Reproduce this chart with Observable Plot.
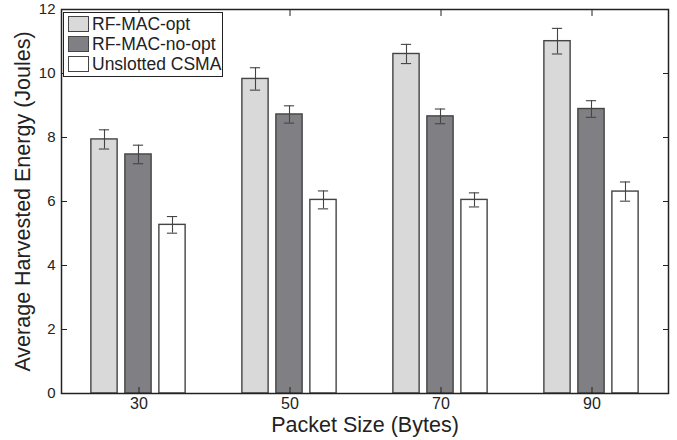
<!DOCTYPE html>
<html>
<head>
<meta charset="utf-8">
<script src="https://cdn.jsdelivr.net/npm/d3@7"></script>
<script src="https://cdn.jsdelivr.net/npm/@observablehq/plot@0.6"></script>
<style>
  html, body { margin: 0; padding: 0; background: #fff; }
  #wrap { position: relative; width: 677px; height: 440px; font-family: "Liberation Sans", Arial, sans-serif; }
  #legend { position: absolute; left: 63px; top: 12px; width: 158px; border: 1.5px solid #222; background: #fff; padding: 1px 0 2px 0; }
  .row { display: flex; align-items: center; height: 20px; }
  .sw { width: 21px; height: 16px; margin-left: 4px; margin-right: 3px; border: 1.3px solid #444; box-sizing: border-box; }
  .lab { font-size: 17.5px; color: #222; white-space: nowrap; }
</style>
</head>
<body>
<div id="wrap"></div>
<script>
const sizes = ["30", "50", "70", "90"];
const series = ["RF-MAC-opt", "RF-MAC-no-opt", "Unslotted CSMA"];
const optMean = [7.94, 9.83, 10.61, 11.01];
const optErr = [0.30, 0.35, 0.30, 0.40];
const noOptMean = [7.47, 8.72, 8.66, 8.89];
const noOptErr = [0.29, 0.27, 0.23, 0.26];
const csmaMean = [5.27, 6.05, 6.05, 6.31];
const csmaErr = [0.26, 0.28, 0.22, 0.30];
const yTicks = [0, 2, 4, 6, 8, 10, 12];
const colors = ["#d9d9d9", "#808084", "#ffffff"];

const means = [optMean, noOptMean, csmaMean];
const errs = [optErr, noOptErr, csmaErr];

const W = 677, H = 440;
const mL = 61, mR = 9, mT = 9, mB = 47;
const band = (W - mL - mR) / sizes.length;
const barW = 27, step = 34, capW = 11;
const barInset = (band - barW) / 2;
const capInset = (band - capW) / 2;

const marks = [];
series.forEach((s, i) => {
  const rows = sizes.map((sz, j) => ({size: sz, mean: means[i][j], lo: means[i][j] - errs[i][j], hi: means[i][j] + errs[i][j]}));
  const dx = (i - 1) * step - 0.5;
  marks.push(Plot.barY(rows, {x: "size", y: "mean", fill: colors[i], stroke: "#444", strokeWidth: 1.4, insetLeft: barInset, insetRight: barInset, dx}));
  marks.push(Plot.ruleX(rows, {x: "size", y1: "lo", y2: "hi", stroke: "#444", strokeWidth: 1.1, dx}));
  marks.push(Plot.tickY(rows, {x: "size", y: "hi", stroke: "#444", strokeWidth: 1.1, insetLeft: capInset, insetRight: capInset, dx}));
  marks.push(Plot.tickY(rows, {x: "size", y: "lo", stroke: "#444", strokeWidth: 1.1, insetLeft: capInset, insetRight: capInset, dx}));
});

const chart = Plot.plot({
  width: W, height: H,
  marginLeft: mL, marginRight: mR, marginTop: mT, marginBottom: mB,
  style: {fontFamily: "Liberation Sans, Arial, sans-serif", fontSize: "15px", color: "#222", background: "#fff"},
  x: {domain: sizes, padding: 0, label: null},
  y: {domain: [0, 12], label: null},
  marks: [
    ...marks,
    Plot.axisY({anchor: "left", ticks: yTicks, tickSize: -6, tickPadding: 12, label: null, fontSize: 15, stroke: "#222"}),
    Plot.axisY({anchor: "right", ticks: yTicks, tickSize: -6, tickFormat: () => "", label: null, stroke: "#222"}),
    Plot.axisX({anchor: "bottom", tickSize: -6, tickPadding: 10, label: null, fontSize: 16, stroke: "#222"}),
    Plot.axisX({anchor: "top", tickSize: -6, tickFormat: () => "", label: null, stroke: "#222"}),
    Plot.frame({stroke: "#222", strokeWidth: 1.5}),
    Plot.text(["Packet Size (Bytes)"], {frameAnchor: "bottom", dy: 38, fontSize: 21.5, fill: "#222"}),
    Plot.text(["Average Harvested Energy (Joules)"], {frameAnchor: "left", textAnchor: "middle", lineAnchor: "middle", rotate: -90, dx: -38, fontSize: 21.5, fill: "#222"})
  ]
});

const wrap = document.getElementById("wrap");
wrap.appendChild(chart);

const legend = document.createElement("div");
legend.id = "legend";
series.forEach((s, i) => {
  const row = document.createElement("div");
  row.className = "row";
  const sw = document.createElement("div");
  sw.className = "sw";
  sw.style.background = colors[i];
  const lab = document.createElement("span");
  lab.className = "lab";
  lab.textContent = s;
  row.appendChild(sw);
  row.appendChild(lab);
  legend.appendChild(row);
});
wrap.appendChild(legend);
</script>
</body>
</html>
